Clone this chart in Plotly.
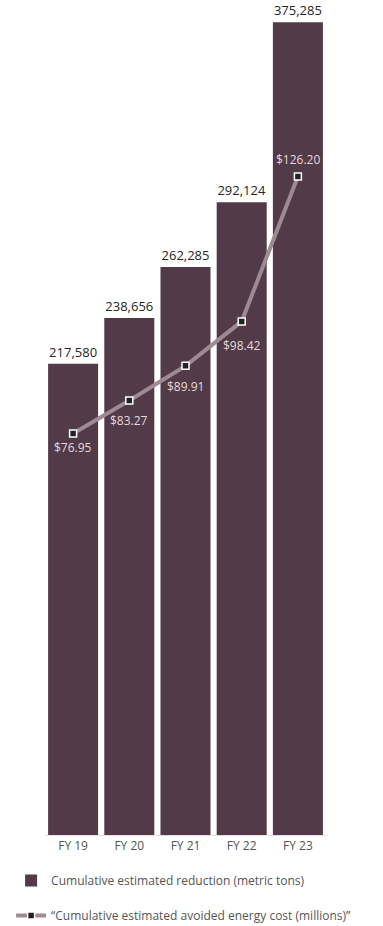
import plotly.graph_objects as go

categories = ["FY 19", "FY 20", "FY 21", "FY 22", "FY 23"]
reduction_tons = [217580, 238656, 262285, 292124, 375285]
avoided_cost = [76.95, 83.27, 89.91, 98.42, 126.20]

# label offsets (pixels) for the cost labels, relative to their points
COST_LABEL_SHIFT = [-14, -20, -21, -24, 17]

BAR_COLOR = "#523a48"
LINE_COLOR = "#9e8a92"
FONT = "Open Sans"

fig = go.Figure()
fig.add_trace(go.Bar(
    x=categories, y=reduction_tons,
    name="Cumulative estimated reduction (metric tons)",
    legendgroup="bars",
    marker=dict(color=BAR_COLOR, line=dict(width=0)),
    text=[f"{v:,}" for v in reduction_tons],
    textposition="outside",
    textfont=dict(family=FONT, size=13, color="#262626"),
    cliponaxis=False,
))
fig.add_trace(go.Scatter(
    x=categories, y=avoided_cost, yaxis="y2",
    name="\u201cCumulative estimated avoided energy cost (millions)\u201d",
    legendgroup="line",
    mode="lines+markers",
    line=dict(color=LINE_COLOR, width=4),
    marker=dict(symbol="square", size=7, color="#222222", line=dict(color="white", width=1.5)),
    cliponaxis=False,
))

for cat, val, shift in zip(categories, avoided_cost, COST_LABEL_SHIFT):
    fig.add_annotation(
        x=cat, y=val, xref="x", yref="y2",
        text=f"${val:.2f}", showarrow=False,
        yshift=shift,
        font=dict(family=FONT, size=12, color="#e3d8dc"),
    )

hidden = dict(showgrid=False, showticklabels=False, showline=False, zeroline=False, ticks="")

fig.update_layout(
    width=383, height=926,
    margin=dict(l=45, r=57, t=10, b=91, autoexpand=False),
    paper_bgcolor="white", plot_bgcolor="white",
    bargap=0.11,
    showlegend=True,
    legend=dict(
        orientation="v",
        xref="container", yref="container",
        x=0.029, y=0.0648, xanchor="left", yanchor="top",
        font=dict(family=FONT, size=12, color="#555555"),
        tracegroupgap=16,
        bgcolor="rgba(0,0,0,0)",
    ),
    xaxis=dict(
        showgrid=False, showline=True, linecolor="#e2e2e2", linewidth=1,
        ticks="", tickfont=dict(family=FONT, size=12, color="#555555"),
    ),
    yaxis=dict(range=[0, 380886], **hidden),
    yaxis2=dict(range=[0, 158.1], overlaying="y", side="right", anchor="x", **hidden),
)

fig.write_html("out.html")
